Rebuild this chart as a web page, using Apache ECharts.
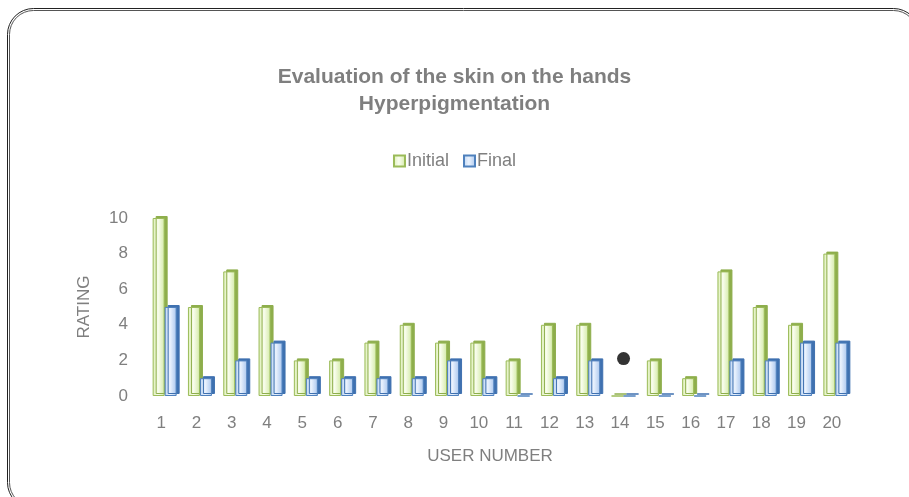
<!DOCTYPE html>
<html>
<head>
<meta charset="utf-8">
<script src="https://cdn.jsdelivr.net/npm/echarts@6/dist/echarts.min.js"></script>
<style>
html,body{margin:0;padding:0;background:#fff;}
#chart{width:909px;height:497px;}
</style>
</head>
<body>
<div id="chart"></div>
<script>
const categories = ['1','2','3','4','5','6','7','8','9','10','11','12','13','14','15','16','17','18','19','20'];
const initialValues = [10,5,7,5,2,2,3,4,3,3,2,4,4,0,2,1,7,5,4,8];
const finalValues = [5,1,2,3,1,1,1,1,2,1,0,1,2,0,0,0,2,2,3,3];
const yTicks = [0,2,4,6,8,10];
const markerPoint = [['14', 2.1]];

const FONT = '"Liberation Sans",Arial,sans-serif';
const TXT = '#7f7f7f';

function grad(c0, c1, c2) {
  return new echarts.graphic.LinearGradient(0, 0, 1, 0, [
    {offset: 0, color: c0}, {offset: 0.45, color: c1}, {offset: 1, color: c2}
  ]);
}

const chart = echarts.init(document.getElementById('chart'), null, {renderer: 'canvas'});
chart.setOption({
  animation: false,
  backgroundColor: '#fff',
  graphic: [
    {type: 'rect', shape: {x: 7.5, y: 8.5, width: 912, height: 500, r: 26},
     style: {fill: 'none', stroke: '#222', lineWidth: 1}, silent: true, z: -1},
    {type: 'rect', shape: {x: 9.5, y: 10.5, width: 908, height: 496, r: 24},
     style: {fill: 'none', stroke: '#555', lineWidth: 1}, silent: true, z: -1}
  ],
  title: {
    text: 'Evaluation of the skin on the hands\nHyperpigmentation',
    left: 'center', top: 59,
    textStyle: {fontFamily: FONT, fontSize: 21, fontWeight: 'bold', color: TXT, lineHeight: 27}
  },
  legend: {
    data: ['Initial', 'Final'],
    top: 147, left: 'center',
    itemWidth: 11, itemHeight: 11, itemGap: 14,
    icon: 'rect',
    textStyle: {fontFamily: FONT, fontSize: 18, color: TXT, padding: [0,0,0,-3]}
  },
  grid: {left: 147, right: 56, top: 218, bottom: 101, containLabel: false},
  xAxis: {
    type: 'category',
    data: categories,
    name: 'USER NUMBER',
    nameLocation: 'middle',
    nameGap: 52,
    nameTextStyle: {fontFamily: FONT, fontSize: 17, color: TXT, padding: [0, 0, 0, -20]},
    axisLine: {show: false},
    axisTick: {show: false},
    axisLabel: {fontFamily: FONT, fontSize: 17, color: TXT, margin: 19, padding: [0, 7, 0, 0]}
  },
  yAxis: {
    type: 'value',
    min: 0, max: 10, interval: 2,
    name: 'RATING',
    nameLocation: 'middle',
    nameGap: 54,
    nameTextStyle: {fontFamily: FONT, fontSize: 17, color: TXT},
    axisLine: {show: false},
    axisTick: {show: false},
    splitLine: {show: false},
    axisLabel: {fontFamily: FONT, fontSize: 17, color: TXT, margin: 19,
      formatter: v => yTicks.includes(v) ? String(v) : ''}
  },
  series: [
    {
      name: 'Initial', type: 'bar', data: initialValues,
      barWidth: 12, barGap: '0%',
      itemStyle: {
        color: grad('#dcefb4', '#f9fdee', '#d3eaa6'),
        borderColor: '#9bbb59', borderWidth: 1,
        shadowColor: '#8eae4c', shadowOffsetX: 3, shadowOffsetY: -2, shadowBlur: 0
      }
    },
    {
      name: 'Final', type: 'bar', data: finalValues,
      barWidth: 12,
      itemStyle: {
        color: grad('#bcd5f4', '#eaf2fd', '#a9c6ee'),
        borderColor: '#4f81bd', borderWidth: 1,
        shadowColor: '#3f71b0', shadowOffsetX: 3, shadowOffsetY: -2, shadowBlur: 0
      }
    },
    {
      name: 'marker', type: 'scatter', data: markerPoint,
      symbol: 'circle', symbolSize: 13,
      itemStyle: {color: '#000'}, z: 5
    }
  ]
});
</script>
</body>
</html>
